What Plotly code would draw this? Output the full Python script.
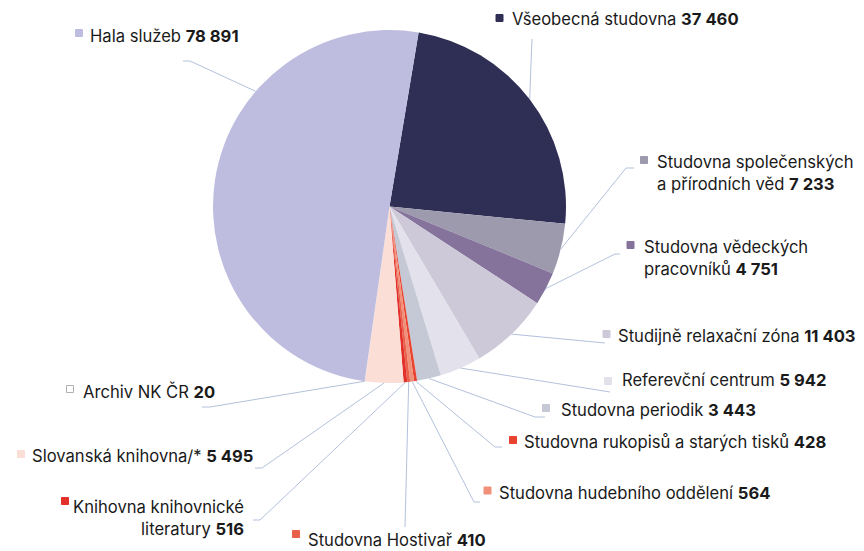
import math
import plotly.graph_objects as go

# data (clockwise from the top)
labels = [
    "Všeobecná studovna",
    "Studovna společenských<br>a přírodních věd",
    "Studovna vědeckých<br>pracovníků",
    "Studijně relaxační zóna",
    "Referevční centrum",
    "Studovna periodik",
    "Studovna rukopisů a starých tisků",
    "Studovna hudebního oddělení",
    "Studovna Hostivař",
    "Knihovna knihovnické<br>literatury",
    "Slovanská knihovna/*",
    "Archiv NK ČR",
    "Hala služeb",
]
values = [37460, 7233, 4751, 11403, 5942, 3443, 428, 564, 410, 516, 5495, 20, 78891]
colors = ["#2f2e54", "#9d9aae", "#85739c", "#cdc9d8", "#e3e2ec", "#c5c9d6",
          "#e8432f", "#f1907a", "#e9604a", "#e3302a", "#fbded5", "#ffffff", "#bfbddf"]

W, H = 864, 551
CX, CY, R = 389.5, 206.5, 176.5
ROT = 9.5
LINE_COL = "#b3c1dc"


def px(x):
    return x / W


def py(y):
    return 1 - y / H


# label layout in pixels: text pos, marker centre, leader line points, anchor fraction in slice, align
lay = [
    dict(t=(511, 19), m=(499.5, 18), pts=[(532, 39)]),
    dict(t=(656, 162), m=(644, 160), pts=[(626, 168), (634, 168)]),
    dict(t=(643, 247), m=(630.5, 245), pts=[(615, 254), (620, 254)]),
    dict(t=(617, 336), m=(606.5, 334), pts=[(605, 343)]),
    dict(t=(621, 380), m=(608, 381), pts=[(610, 392)]),
    dict(t=(560, 410), m=(546, 408), pts=[(535, 417), (545, 417)]),
    dict(t=(523, 442), m=(513, 440), pts=[(495, 447), (502, 447)]),
    dict(t=(498, 493), m=(487.5, 490.5), pts=[(474, 502), (480, 502)]),
    dict(t=(307, 540), m=(296, 534), pts=[(405, 527)]),
    dict(t=(245, 507), m=(65, 501), pts=[(260, 520), (253, 520)], align="right"),
    dict(t=(31, 456), m=(21, 454), pts=[(262, 468), (255, 468)]),
    dict(t=(82, 391), m=(70, 389), pts=[(210, 407), (202, 407)]),
    dict(t=(89, 37), m=(79, 33), pts=[(190, 61), (183, 61)], frac=0.676),
]

fig = go.Figure()
fig.add_trace(go.Pie(
    labels=labels, values=values, sort=False, direction="clockwise", rotation=ROT,
    marker=dict(colors=colors, line=dict(width=0)), textinfo="none", hoverinfo="label+value",
    domain=dict(x=[px(CX - R), px(CX + R)], y=[py(CY + R), py(CY - R)]),
    showlegend=False,
))

total = sum(values)
shapes, annotations = [], []
start = ROT
for lab, v, c, L in zip(labels, values, colors, lay):
    span = v / total * 360
    ang = math.radians(start + span * L.get("frac", 0.5))
    start += span
    pts = [(CX + R * math.sin(ang), CY - R * math.cos(ang))] + L["pts"]
    for (x0, y0), (x1, y1) in zip(pts[:-1], pts[1:]):
        shapes.append(dict(type="line", xref="paper", yref="paper",
                           x0=px(x0), y0=py(y0), x1=px(x1), y1=py(y1),
                           line=dict(color=LINE_COL, width=1)))
    mx, my = L["m"]
    shapes.append(dict(type="rect", xref="paper", yref="paper",
                       x0=px(mx - 3.5), x1=px(mx + 3.5), y0=py(my + 3.5), y1=py(my - 3.5),
                       fillcolor=c, line=dict(color="#b0b0b0" if c == "#ffffff" else c, width=1)))
    num = f"{v:,}".replace(",", "\u00a0")
    align = L.get("align", "left")
    tx, ty = L["t"]
    annotations.append(dict(
        xref="paper", yref="paper", x=px(tx), y=py(ty - 11.5),
        xanchor="right" if align == "right" else "left", yanchor="top",
        text=f"{lab} <b>{num}</b>", showarrow=False, align=align, borderpad=0,
        font=dict(size=16.6, color="#1a1a1a"),
    ))

fig.update_layout(
    width=W, height=H, margin=dict(l=0, r=0, t=0, b=0),
    paper_bgcolor="white", plot_bgcolor="white",
    font=dict(family="Inter, Open Sans, sans-serif"),
    shapes=shapes, annotations=annotations,
)

fig.write_html("out.html", config={"displayModeBar": False},
               post_script="document.body.style.margin='0';")
